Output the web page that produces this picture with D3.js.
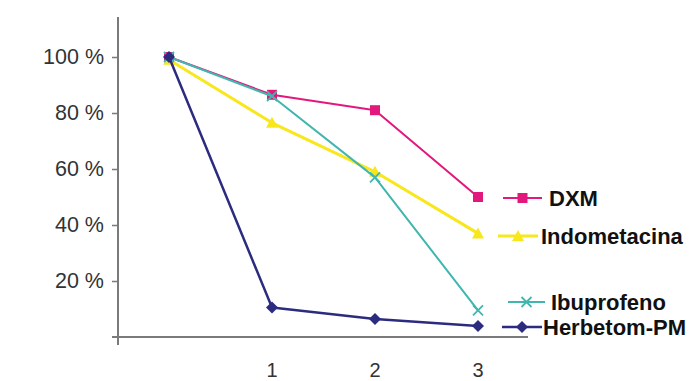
<!DOCTYPE html>
<html><head><meta charset="utf-8">
<script src="https://cdn.jsdelivr.net/npm/d3@7"></script>
<style>body{margin:0;background:#fff}svg{display:block}</style>
</head><body>
<svg id="c" width="695" height="381"></svg>
<script>
const categories = ["", "1", "2", "3"];
const yTicks = [20, 40, 60, 80, 100];
const seriesNames = ["DXM", "Indometacina", "Ibuprofeno", "Herbetom-PM"];
const dxm = [100, 86.5, 81, 50];
const indometacina = [99, 76.5, 59, 37];
const ibuprofeno = [100, 86, 57, 9.5];
const herbetom = [100, 10.5, 6.4, 3.9];

const series = [
  {name: seriesNames[0], values: dxm, color: "#e3187d", marker: "square", width: 2, ly: 198, lx0: 503, lx1: 542, tx: 549},
  {name: seriesNames[1], values: indometacina, color: "#f8e71c", marker: "triangle", width: 3, ly: 236, lx0: 498, lx1: 538, tx: 541},
  {name: seriesNames[2], values: ibuprofeno, color: "#40b6ae", marker: "x", width: 2, ly: 302, lx0: 508, lx1: 545, tx: 551},
  {name: seriesNames[3], values: herbetom, color: "#2b2b80", marker: "diamond", width: 2.5, ly: 327, lx0: 502, lx1: 542, tx: 543}
];

const svg = d3.select("#c");
const x = d3.scalePoint().domain(categories.map((c,i)=>i)).range([169, 478]);
const y = d3.scaleLinear().domain([0, 100]).range([337, 57]);
const axisColor = "#7a7a7a";
const font = "Liberation Sans, Arial, sans-serif";

// y axis
const yAxis = d3.axisLeft(y).tickValues(yTicks).tickSize(6).tickFormat(d => d + " %");
const gy = svg.append("g").attr("transform", "translate(118,0)").call(yAxis);
gy.select(".domain").remove();
gy.selectAll(".tick line").attr("stroke", axisColor).attr("stroke-width", 1.5);
gy.selectAll(".tick text").attr("x", -14).attr("fill", "#333")
  .style("font-family", font).style("font-size", "21.5px");
svg.append("line").attr("x1", 118).attr("x2", 118).attr("y1", 17).attr("y2", 345)
  .attr("stroke", axisColor).attr("stroke-width", 2);
// x axis
svg.append("line").attr("x1", 112).attr("x2", 528).attr("y1", 337).attr("y2", 337)
  .attr("stroke", axisColor).attr("stroke-width", 2);
svg.append("g").selectAll("text").data(categories).join("text")
  .attr("x", (d,i) => x(i)).attr("y", 377).attr("text-anchor", "middle")
  .attr("fill", "#333").style("font-family", font).style("font-size", "20px")
  .text(d => d);

function drawMarker(g, type, cx, cy, color) {
  if (type === "square") {
    g.append("rect").attr("x", cx-5).attr("y", cy-5).attr("width", 10).attr("height", 10).attr("fill", color);
  } else if (type === "triangle") {
    g.append("path").attr("d", `M${cx},${cy-6}L${cx+6},${cy+5}L${cx-6},${cy+5}Z`).attr("fill", color);
  } else if (type === "x") {
    g.append("path").attr("d", `M${cx-5},${cy-5}L${cx+5},${cy+5}M${cx-5},${cy+5}L${cx+5},${cy-5}`)
      .attr("stroke", color).attr("stroke-width", 1.8).attr("fill", "none");
  } else if (type === "diamond") {
    g.append("path").attr("d", `M${cx},${cy-6}L${cx+6},${cy}L${cx},${cy+6}L${cx-6},${cy}Z`).attr("fill", color);
  }
}

const line = d3.line().x((d,i) => x(i)).y(d => y(d));
series.forEach(s => {
  const g = svg.append("g");
  g.append("path").attr("d", line(s.values)).attr("fill", "none")
    .attr("stroke", s.color).attr("stroke-width", s.width).attr("stroke-linejoin", "round");
  s.values.forEach((v,i) => drawMarker(g, s.marker, x(i), y(v), s.color));
  // legend
  const lg = svg.append("g");
  lg.append("line").attr("x1", s.lx0).attr("x2", s.lx1).attr("y1", s.ly).attr("y2", s.ly)
    .attr("stroke", s.color).attr("stroke-width", s.width);
  drawMarker(lg, s.marker, (s.lx0+s.lx1)/2, s.ly, s.color);
  lg.append("text").attr("x", s.tx).attr("y", s.ly + 8).attr("fill", "#111")
    .style("font-family", font).style("font-size", "22px").style("font-weight", "bold")
    .text(s.name);
});
</script>
</body></html>
